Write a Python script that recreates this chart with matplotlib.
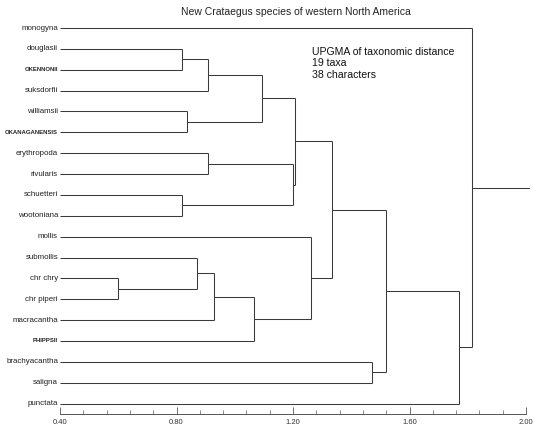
import matplotlib
matplotlib.use("Agg")
import matplotlib.pyplot as plt
from matplotlib.ticker import MultipleLocator, FixedLocator

plt.rcParams['font.family'] = ['Liberation Sans', 'DejaVu Sans']

# ---------------- data ----------------
taxa = ["monogyna", "douglasii", "OKENNONII", "suksdorfii", "williamsii",
        "OKANAGANENSIS", "erythropoda", "rivularis", "schuetteri", "wootoniana",
        "mollis", "submollis", "chr chry", "chr piperi", "macracantha",
        "PHIPPSII", "brachyacantha", "saligna", "punctata"]

# UPGMA merges (cluster ids: leaves 0..18, merges 19..)
merge_left = [12, 1, 8, 4, 11, 20, 6, 23, 26, 24, 25, 28, 10, 30, 16, 32, 34, 0]
merge_right = [13, 2, 9, 5, 19, 3, 7, 14, 15, 22, 21, 29, 27, 31, 17, 33, 18, 35]
merge_height = [0.600, 0.818, 0.819, 0.836, 0.869, 0.908, 0.908, 0.928, 1.067,
                1.095, 1.200, 1.207, 1.261, 1.333, 1.471, 1.518, 1.770, 1.814]

leaf_height = 0.40
root_end = 2.01

x_major = [0.40, 0.80, 1.20, 1.60, 2.00]
x_major_labels = ["0.40", "0.80", "1.20", "1.60", "2.00"]

title = "New Crataegus species of western North America"
note_lines = ["UPGMA of taxonomic distance", "19 taxa", "38 characters"]

# ---------------- figure ----------------
W, H = 533, 425
fig = plt.figure(figsize=(W / 100, H / 100), dpi=100)
ax = fig.add_axes([60 / W, 1 - 414 / H, (526 - 60) / W, (414 - 17.6) / H])

n = len(taxa)
ypos = {i: float(i) for i in range(n)}
hpos = {i: leaf_height for i in range(n)}

lc = "#3a3a3a"
lw = 0.75
for k, (a, b, h) in enumerate(zip(merge_left, merge_right, merge_height)):
    cid = n + k
    ya, yb = ypos[a], ypos[b]
    ax.plot([hpos[a], h], [ya, ya], color=lc, lw=lw, solid_capstyle='butt')
    ax.plot([hpos[b], h], [yb, yb], color=lc, lw=lw, solid_capstyle='butt')
    ax.plot([h, h], [ya, yb], color=lc, lw=lw, solid_capstyle='butt')
    ypos[cid] = (ya + yb) / 2
    hpos[cid] = h

root = n + len(merge_height) - 1
ax.plot([hpos[root], root_end], [ypos[root], ypos[root]], color=lc, lw=lw,
        clip_on=False)

ax.set_xlim(0.40, 2.00)
ax.set_ylim(18.5, -0.5)

for i, name in enumerate(taxa):
    if name.isupper():
        ax.text(0.393, i, name, ha='right', va='center', fontsize=4.3,
                fontweight='bold', color='#222222')
    else:
        ax.text(0.393, i, name, ha='right', va='center', fontsize=5.7,
                color='#222222')

for s in ['top', 'right', 'left']:
    ax.spines[s].set_visible(False)
ax.spines['bottom'].set_color('#555555')
ax.spines['bottom'].set_linewidth(0.7)
ax.set_yticks([])
ax.xaxis.set_major_locator(FixedLocator(x_major))
ax.set_xticklabels(x_major_labels)
ax.xaxis.set_minor_locator(MultipleLocator(0.08))
ax.tick_params(axis='x', which='major', direction='in', length=5, width=0.6,
               labelsize=5.5, pad=3.5, colors='#555555', labelcolor='#333333')
ax.tick_params(axis='x', which='minor', direction='in', length=3, width=0.5,
               colors='#555555')

fig.text(296 / W, 1 - 12 / H, title, ha='center', va='center', fontsize=7.5,
         color='#222222')
for j, line in enumerate(note_lines):
    fig.text(311.5 / W, 1 - (52 + j * 11.3) / H, line, ha='left', va='center',
             fontsize=7.6, color='#111111')

fig.savefig("out.png", dpi=100, facecolor='white')
